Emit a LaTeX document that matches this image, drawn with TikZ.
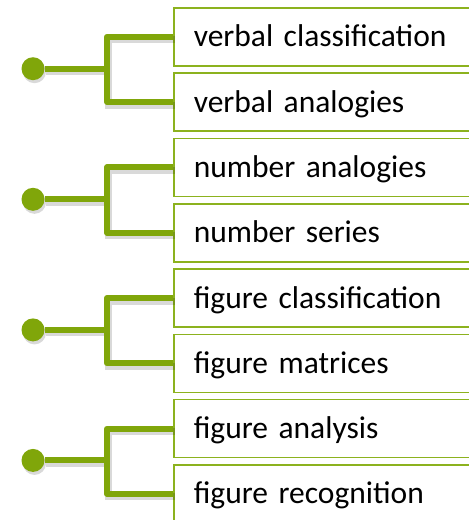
\documentclass[tikz,border=0pt]{standalone}
\usepackage{fontspec}
\setmainfont{Carlito}
\usepackage{tikz}
\usetikzlibrary{positioning}
\definecolor{leaf}{RGB}{128,166,10}
\definecolor{rim}{RGB}{140,178,30}
\newcommand{\topicfont}{\fontsize{31.5}{36}\selectfont\spaceskip=0.2em\relax}

\tikzset{
  topic/.style={draw=rim, line width=1.6pt, fill=white, anchor=north west,
    minimum height=58pt, text width=290pt, align=left, inner xsep=20pt,
    text height=22pt, text depth=2pt, font=\topicfont},
  branch/.style={leaf, line width=6pt, line join=round,
    preaction={draw=black, opacity=.15, line width=7pt,
      transform canvas={shift={(1.5pt,-3pt)}}}},
  knob/.style={circle, fill=leaf, minimum size=23pt, inner sep=0pt,
    preaction={fill=black, opacity=.15,
      transform canvas={shift={(1.5pt,-3pt)}}}},
}

\begin{document}
\begin{tikzpicture}[x=1pt, y=-1pt]
		\useasboundingbox (0, 0) rectangle (469, 520);
		\clip (0, 0) rectangle (469, 520);
		% draw boxes
		\node [topic] (vclass) at (173, 7) {verbal classification};
		\node [topic] (vanal) at (173, 72.3) {verbal analogies};
		\node [topic] (nanal) at (173, 137.6) {number analogies};
		\node [topic] (nser) at (173, 202.9) {number series};
		\node [topic] (fclass) at (173, 268.2) {figure classification};
		\node [topic] (fmat) at (173, 333.5) {figure matrices};
		\node [topic] (fanal) at (173, 398.8) {figure analysis};
		\node [topic] (frec) at (173, 464.1) {figure recognition};
		% draw dots
		\node [knob] (verbal) at (33, 68.7) {};
		\node [knob] (number) at (33, 199.3) {};
		\node [knob] (figure) at (33, 329.9) {};
		\node [knob] (shape) at (33, 460.4) {};
		% draw forks
		\coordinate (vfork) at (107, 68.7);
		\coordinate (nfork) at (107, 199.3);
		\coordinate (ffork) at (107, 329.9);
		\coordinate (sfork) at (107, 460.4);
		% draw branches
		\draw [branch] (verbal) -- (vfork);
		\draw [branch] (vanal.west) -| (vfork) |- (vclass.west);
		\draw [branch] (number) -- (nfork);
		\draw [branch] (nser.west) -| (nfork) |- (nanal.west);
		\draw [branch] (figure) -- (ffork);
		\draw [branch] (fmat.west) -| (ffork) |- (fclass.west);
		\draw [branch] (shape) -- (sfork);
		\draw [branch] (frec.west) -| (sfork) |- (fanal.west);
	\end{tikzpicture}
\end{document}
